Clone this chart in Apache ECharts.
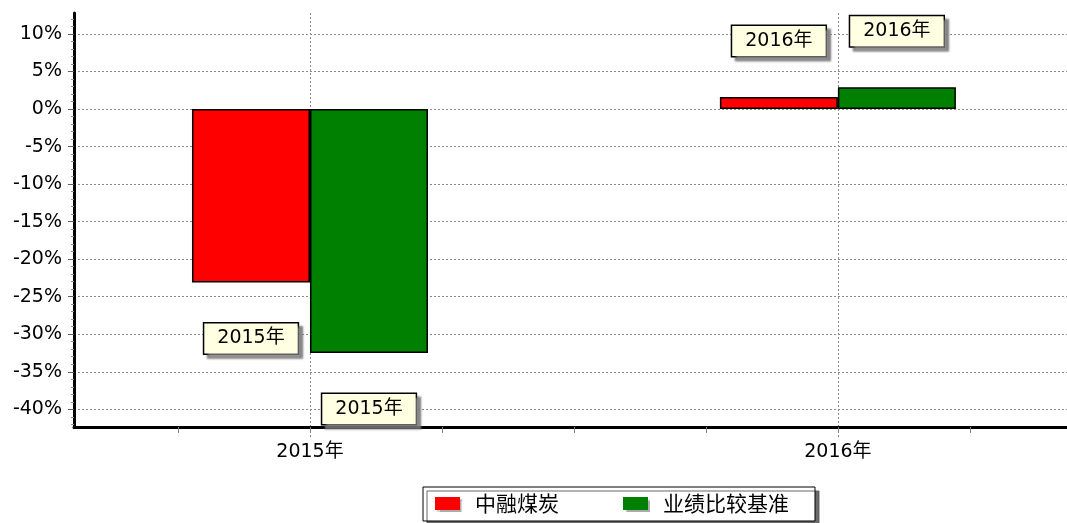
<!DOCTYPE html>
<html>
<head>
<meta charset="utf-8">
<script src="https://cdn.jsdelivr.net/npm/echarts@6/dist/echarts.min.js"></script>
<style>
html,body{margin:0;padding:0;background:#fff;}
#chart{width:1067px;height:523px;}
</style>
</head>
<body>
<div id="chart"></div>
<script>
// ---- data ----
const categories = ['2015年', '2016年'];
const years = [2015, 2016];
const seriesNames = ['中融煤炭', '业绩比较基准'];
const fundValues = [-23.1, 1.6];
const benchValues = [-32.5, 2.9];
const yTickValues = [-40, -35, -30, -25, -20, -15, -10, -5, 0, 5, 10];
const yMinorTickValues = [];
for (let v = -42; v <= 12; v++) { if (v % 5 !== 0) yMinorTickValues.push(v); }
const xMinorTickValues = [2014.75, 2015, 2015.25, 2015.5, 2015.75, 2016, 2016.25];

const yMin = -42.36, yMax = 12.8;
const xMin = 2014.553, xMax = 2016.434;

const numFont = 'DejaVu Sans, Noto Sans CJK SC, sans-serif';
const cjkFont = 'Noto Sans CJK SC, DejaVu Sans, sans-serif';

function pairs(vals) { return years.map((y, i) => [y, vals[i]]); }

const labelStyle = {
  show: true,
  position: 'outside',
  distance: 41,
  formatter: p => categories[p.dataIndex],
  color: '#000',
  fontFamily: numFont,
  fontSize: 19,
  lineHeight: 20,
  backgroundColor: '#ffffe1',
  borderColor: '#000',
  borderWidth: 1.5,
  padding: [5, 13, 5, 13],
  shadowColor: 'rgba(120,120,120,0.8)',
  shadowOffsetX: 4,
  shadowOffsetY: 4,
  shadowBlur: 2
};

const chart = echarts.init(document.getElementById('chart'), null, {renderer: 'canvas'});
chart.setOption({
  animation: false,
  backgroundColor: '#fff',
  grid: {left: 74, right: 0, top: 13, bottom: 96, containLabel: false},
  legend: {
    left: 423, top: 487,
    orient: 'horizontal',
    data: seriesNames,
    icon: 'rect',
    itemWidth: 25, itemHeight: 13, itemGap: 64,
    padding: [6, 26, 7, 12],
    backgroundColor: '#fff',
    borderColor: '#000', borderWidth: 1,
    shadowColor: 'rgba(90,90,90,0.9)', shadowOffsetX: 4, shadowOffsetY: 4, shadowBlur: 0,
    itemStyle: {borderWidth: 0, shadowColor: 'rgba(150,150,150,0.8)', shadowOffsetX: 2, shadowOffsetY: 2, shadowBlur: 1},
    textStyle: {fontFamily: cjkFont, fontSize: 21, color: '#000', padding: [0, 0, 0, 10]}
  },
  xAxis: [{
    type: 'value', position: 'bottom', min: xMin, max: xMax,
    axisLine: {show: true, onZero: false, lineStyle: {color: '#000', width: 3}},
    axisTick: {show: true, customValues: years, length: 10, lineStyle: {color: '#808080', type: [2, 2]}},
    axisLabel: {show: true, customValues: years, formatter: v => categories[years.indexOf(v)] || '', margin: 16,
      fontFamily: numFont, fontSize: 19, color: '#000'},
    splitLine: {show: true, lineStyle: {color: '#8c8c8c', width: 1, type: [2, 2]}}
  }, {
    type: 'value', position: 'bottom', min: xMin, max: xMax,
    axisLine: {show: false, onZero: false},
    axisTick: {show: true, customValues: xMinorTickValues, length: 6, lineStyle: {color: '#808080', width: 1}},
    axisLabel: {show: false},
    splitLine: {show: false}
  }],
  yAxis: [{
    type: 'value', position: 'left', min: yMin, max: yMax,
    axisLine: {show: true, onZero: false, lineStyle: {color: '#000', width: 3}},
    axisTick: {show: true, customValues: yTickValues, length: 6, lineStyle: {color: '#606060', width: 1}},
    axisLabel: {show: true, customValues: yTickValues, formatter: v => Math.round(v) + '%', margin: 12,
      fontFamily: numFont, fontSize: 19, color: '#000'},
    splitLine: {show: true, lineStyle: {color: '#8c8c8c', width: 1, type: [2, 2]}}
  }, {
    type: 'value', position: 'left', min: yMin, max: yMax,
    axisLine: {show: false, onZero: false},
    axisTick: {show: true, customValues: yMinorTickValues, length: 3, lineStyle: {color: '#909090', width: 1}},
    axisLabel: {show: false},
    splitLine: {show: false}
  }],
  series: [{
    name: seriesNames[0], type: 'bar', xAxisIndex: 0, yAxisIndex: 0,
    data: pairs(fundValues),
    barWidth: 118, barGap: '0%',
    itemStyle: {color: '#ff0000', borderColor: '#000', borderWidth: 1.5},
    label: labelStyle
  }, {
    name: seriesNames[1], type: 'bar', xAxisIndex: 0, yAxisIndex: 0,
    data: pairs(benchValues),
    barWidth: 118, barGap: '0%',
    itemStyle: {color: '#008000', borderColor: '#000', borderWidth: 1.5},
    label: labelStyle
  }]
});
</script>
</body>
</html>
